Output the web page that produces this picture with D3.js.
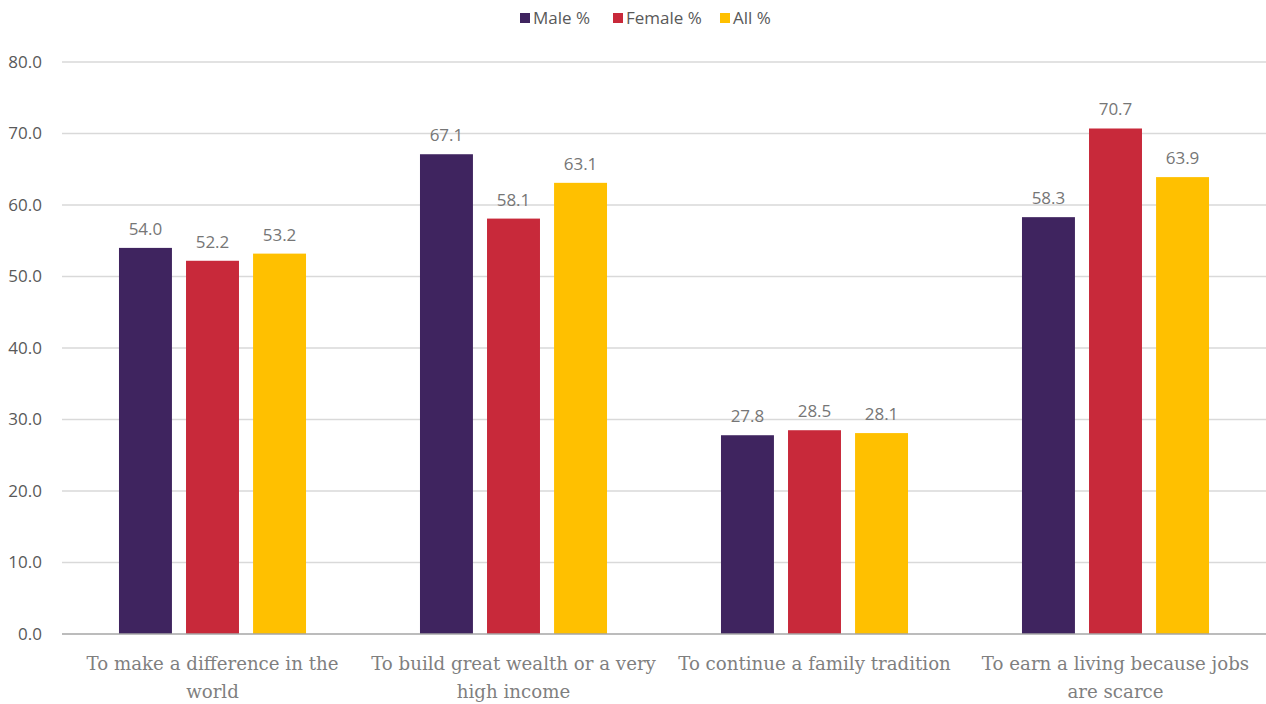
<!DOCTYPE html>
<html>
<head>
<meta charset="utf-8">
<script src="https://cdn.jsdelivr.net/npm/d3@7"></script>
<style>
  html, body { margin: 0; padding: 0; background: #fff; }
  svg { display: block; }
</style>
</head>
<body>
<svg id="chart" width="1266" height="704"></svg>
<script>
// Reasons for starting a business, by gender (%)
const categories = [
  ["To make a difference in the", "world"],
  ["To build great wealth or a very", "high income"],
  ["To continue a family tradition"],
  ["To earn a living because jobs", "are scarce"]
];
const seriesNames = ["Male %", "Female %", "All %"];
const seriesColors = ["#3f245f", "#c8293a", "#ffc000"];
const maleValues = [54.0, 67.1, 27.8, 58.3];
const femaleValues = [52.2, 58.1, 28.5, 70.7];
const allValues = [53.2, 63.1, 28.1, 63.9];
const yTicks = [0, 10, 20, 30, 40, 50, 60, 70, 80];

const seriesValues = [maleValues, femaleValues, allValues];

const svg = d3.select("#chart");
const margin = { left: 62, right: 0, top: 62, bottom: 70 };
const width = 1266, height = 704;
const plotBottom = height - margin.bottom;

const x0 = d3.scaleBand()
  .domain(d3.range(categories.length))
  .range([margin.left, width - margin.right])
  .paddingInner(0).paddingOuter(0);

const x1 = d3.scaleBand()
  .domain(d3.range(seriesNames.length))
  .range([0, x0.bandwidth()])
  .paddingInner(0.21)
  .paddingOuter(0.85);

const y = d3.scaleLinear().domain([0, 80]).range([plotBottom, margin.top]);

const sans = "'Open Sans', 'Noto Sans', sans-serif";
const serif = "'DejaVu Serif', serif";

// gridlines
svg.append("g").selectAll("line").data(yTicks.filter(t => t > 0)).join("line")
  .attr("x1", margin.left).attr("x2", width)
  .attr("y1", d => y(d)).attr("y2", d => y(d))
  .attr("stroke", "#d9d9d9").attr("stroke-width", 1.3);

// y tick labels
svg.append("g").selectAll("text").data(yTicks).join("text")
  .attr("x", 42).attr("y", d => y(d))
  .attr("dy", "0.35em")
  .attr("text-anchor", "end")
  .attr("font-family", sans).attr("font-size", 17)
  .attr("fill", "#595959")
  .text(d => d.toFixed(1));

// bars
const groups = svg.append("g").selectAll("g").data(categories).join("g")
  .attr("transform", (d, i) => `translate(${x0(i)},0)`);

groups.each(function (cat, ci) {
  const g = d3.select(this);
  seriesValues.forEach((vals, si) => {
    const v = vals[ci];
    g.append("rect")
      .attr("x", x1(si)).attr("width", x1.bandwidth())
      .attr("y", y(v)).attr("height", y(0) - y(v))
      .attr("fill", seriesColors[si]);
    g.append("text")
      .attr("x", x1(si) + x1.bandwidth() / 2)
      .attr("y", y(v) - 13)
      .attr("text-anchor", "middle")
      .attr("font-family", sans).attr("font-size", 17)
      .attr("fill", "#767676")
      .text(v.toFixed(1));
  });
});

// baseline
svg.append("line")
  .attr("x1", margin.left).attr("x2", width)
  .attr("y1", y(0)).attr("y2", y(0))
  .attr("stroke", "#a6a6a6").attr("stroke-width", 1.5);

// category labels
groups.each(function (lines, ci) {
  const t = d3.select(this).append("text")
    .attr("text-anchor", "middle")
    .attr("font-family", serif).attr("font-size", 18.2)
    .attr("fill", "#7f7f7f");
  lines.forEach((ln, li) => {
    t.append("tspan")
      .attr("x", x0.bandwidth() / 2)
      .attr("y", 670 + li * 28)
      .text(ln);
  });
});

// legend
const legendX = [520, 613, 720];
const legend = svg.append("g").selectAll("g").data(seriesNames).join("g")
  .attr("transform", (d, i) => `translate(${legendX[i]},18)`);
legend.append("rect")
  .attr("x", 0).attr("y", -5).attr("width", 10).attr("height", 10)
  .attr("fill", (d, i) => seriesColors[i]);
legend.append("text")
  .attr("x", 13).attr("y", 0).attr("dy", "0.35em")
  .attr("font-family", sans).attr("font-size", 17)
  .attr("fill", "#595959")
  .text(d => d);
</script>
</body>
</html>
